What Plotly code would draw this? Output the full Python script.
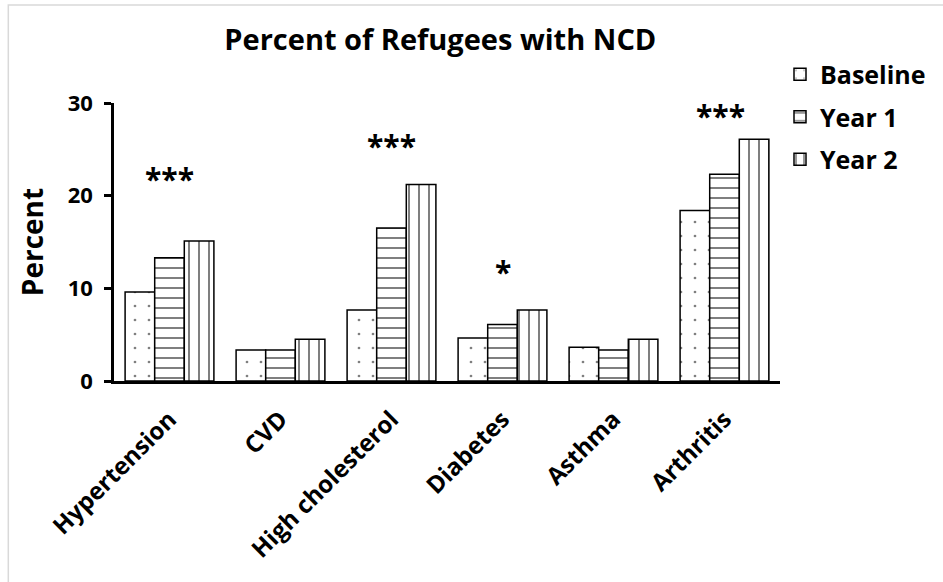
import plotly.graph_objects as go

# Non-communicable disease prevalence among refugees, by follow-up wave
categories = ["Hypertension", "CVD", "High cholesterol", "Diabetes", "Asthma", "Arthritis"]
baseline = [9.6, 3.35, 7.65, 4.65, 3.65, 18.4]
year1 = [13.3, 3.35, 16.5, 6.1, 3.35, 22.3]
year2 = [15.1, 4.5, 21.2, 7.65, 4.5, 26.1]

# Significance markers above each disease group
sig_labels = ["***", "", "***", "*", "", "***"]
sig_heights = [21.9, 0, 25.4, 11.8, 0, 28.7]

y_ticks = [0, 10, 20, 30]

FONT = "Open Sans"

series = [
    ("Baseline", baseline, dict(shape=".", size=14, solidity=0.03)),
    ("Year 1", year1, dict(shape="-", size=10, solidity=0.2)),
    ("Year 2", year2, dict(shape="|", size=10, solidity=0.2)),
]

fig = go.Figure()
for name, vals, pat in series:
    fig.add_trace(go.Bar(
        name=name,
        legendgroup=name,
        x=categories,
        y=vals,
        marker=dict(
            color="white",
            line=dict(color="black", width=1.5),
            pattern=dict(fgcolor="black", bgcolor="white", **pat),
        ),
    ))

for cat, lab, h in zip(categories, sig_labels, sig_heights):
    if lab:
        fig.add_annotation(
            x=cat, y=h, text=lab, showarrow=False,
            xshift=-4 if cat == "Arthritis" else 0,
            font=dict(family=FONT, size=30, color="black", weight="bold"),
        )

# light frame around the chart area
fig.add_shape(
    type="rect", xref="paper", yref="paper",
    x0=-0.1587, x1=1.5, y0=-1.0, y1=1.3525,
    line=dict(color="#d9d9d9", width=1.5), fillcolor="rgba(0,0,0,0)",
    layer="below",
)

fig.update_layout(
    width=943, height=582, autosize=False,
    margin=dict(l=114, r=161, t=103, b=201),
    paper_bgcolor="white", plot_bgcolor="white",
    barmode="group", bargap=0.2, bargroupgap=0,
    title=dict(
        text="Percent of Refugees with NCD",
        font=dict(family=FONT, size=29, color="black", weight="bold"),
        x=0.49, xref="paper", xanchor="center",
        y=0.932, yref="container", yanchor="middle",
    ),
    legend=dict(
        x=1.0, xanchor="left", y=1.185, yanchor="top",
        font=dict(family=FONT, size=25, color="black", weight="bold"),
        bgcolor="rgba(0,0,0,0)", itemwidth=30,
        traceorder="grouped", tracegroupgap=7,
    ),
    xaxis=dict(
        showline=True, linecolor="black", linewidth=2.5,
        ticks="", tickangle=-45, ticklabelstandoff=12,
        tickfont=dict(family=FONT, size=24, color="black", weight="bold"),
        showgrid=False, zeroline=False,
    ),
    yaxis=dict(
        range=[0, 30], tickvals=y_ticks,
        showline=True, linecolor="black", linewidth=2.5,
        ticks="outside", ticklen=7, tickwidth=2.5, tickcolor="black",
        ticklabelstandoff=7,
        tickfont=dict(family=FONT, size=22, color="black", weight="bold"),
        showgrid=False, zeroline=False,
        title=dict(text="Percent", standoff=16,
                   font=dict(family=FONT, size=28, color="black", weight="bold")),
    ),
)

fig.write_html("out.html")
